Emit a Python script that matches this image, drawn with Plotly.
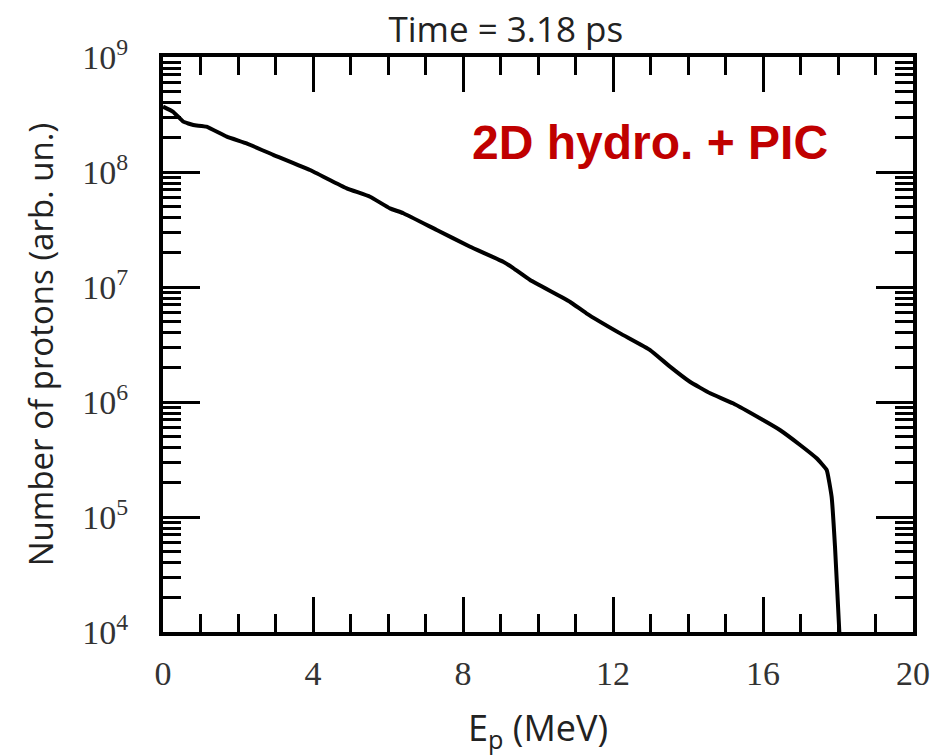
import plotly.graph_objects as go

# Proton energy spectrum
energy_mev = [0.00, 0.27, 0.54, 0.81, 1.16, 1.70, 2.23, 2.94, 3.92, 4.90,
              5.52, 6.05, 6.41, 7.30, 8.19, 9.07, 9.34, 9.79, 10.85, 11.29,
              12.19, 12.99, 13.52, 14.05, 14.59, 15.20, 16.00, 16.45, 16.99,
              17.43, 17.70, 17.83, 17.92, 18.03, 18.05]
n_protons = [3.70e8, 3.34e8, 2.74e8, 2.56e8, 2.48e8, 2.03e8, 1.77e8, 1.41e8,
             1.04e8, 7.21e7, 6.10e7, 4.83e7, 4.38e7, 3.13e7, 2.24e7, 1.66e7,
             1.46e7, 1.15e7, 7.45e6, 5.90e6, 3.95e6, 2.83e6, 2.03e6, 1.50e6,
             1.19e6, 9.75e5, 6.97e5, 5.71e5, 4.23e5, 3.24e5, 2.56e5, 1.50e5,
             5.52e4, 1.08e4, 7.9e3]

x_tickvals = [0, 4, 8, 12, 16, 20]
x_ticktext = ["0", "4", "8", "12", "16", "20"]
y_tickvals = [1e4, 1e5, 1e6, 1e7, 1e8, 1e9]
y_ticktext = ["10<sup>4</sup>", "10<sup>5</sup>", "10<sup>6</sup>",
              "10<sup>7</sup>", "10<sup>8</sup>", "10<sup>9</sup>"]

title_text = "Time = 3.18 ps"
x_title = "E<sub>p</sub> (MeV)"
y_title = "Number of protons (arb. un.)"
label_text = "<b>2D hydro. + PIC</b>"

fig = go.Figure()
fig.add_trace(go.Scatter(
    x=energy_mev, y=n_protons, mode="lines",
    line=dict(color="black", width=4, shape="spline", smoothing=0.3),
    showlegend=False, hoverinfo="skip",
))

tick_font = dict(family="Liberation Serif, DejaVu Serif, serif", size=34, color="#333333")
sans = "Open Sans, DejaVu Sans, sans-serif"

fig.update_xaxes(
    range=[0, 20], tickvals=x_tickvals, ticktext=x_ticktext,
    showline=True, linecolor="black", linewidth=4, mirror="ticks",
    ticks="inside", ticklen=35, tickwidth=3, tickcolor="black",
    minor=dict(ticks="inside", ticklen=18, tickwidth=3, tickcolor="black",
               dtick=1, showgrid=False),
    showgrid=False, zeroline=False, tickfont=tick_font, ticklabelstandoff=8,
)
fig.update_yaxes(
    type="log", range=[4, 9], tickvals=y_tickvals, ticktext=y_ticktext,
    showline=True, linecolor="black", linewidth=4, mirror="ticks",
    ticks="inside", ticklen=37, tickwidth=3, tickcolor="black",
    minor=dict(ticks="inside", ticklen=18, tickwidth=3, tickcolor="black",
               dtick="D1", showgrid=False),
    showgrid=False, zeroline=False, tickfont=tick_font, ticklabelstandoff=24,
    title=dict(text=y_title, font=dict(family=sans, size=33, color="#222222"),
               standoff=20),
)

# x-axis title as an annotation so it can sit low in the bottom margin
fig.add_annotation(
    text=x_title, xref="paper", yref="paper", x=0.5, y=-0.170,
    xanchor="center", yanchor="middle", showarrow=False,
    font=dict(family=sans, size=36, color="#222222"),
)
fig.add_annotation(
    text=label_text, xref="paper", yref="paper", x=0.649, y=0.852,
    xanchor="center", yanchor="middle", showarrow=False,
    font=dict(family="Liberation Sans, Arial, sans-serif", size=48, color="#c00000"),
)

fig.update_layout(
    width=941, height=755,
    margin=dict(l=163, r=28, t=57, b=123),
    paper_bgcolor="white", plot_bgcolor="white",
    title=dict(text=title_text, x=0.5375, xanchor="center", y=0.977, yanchor="top",
               font=dict(family=sans, size=35, color="#222222")),
)

fig.write_html("out.html", config={"displayModeBar": False},
               post_script="document.body.style.margin='0px';")
